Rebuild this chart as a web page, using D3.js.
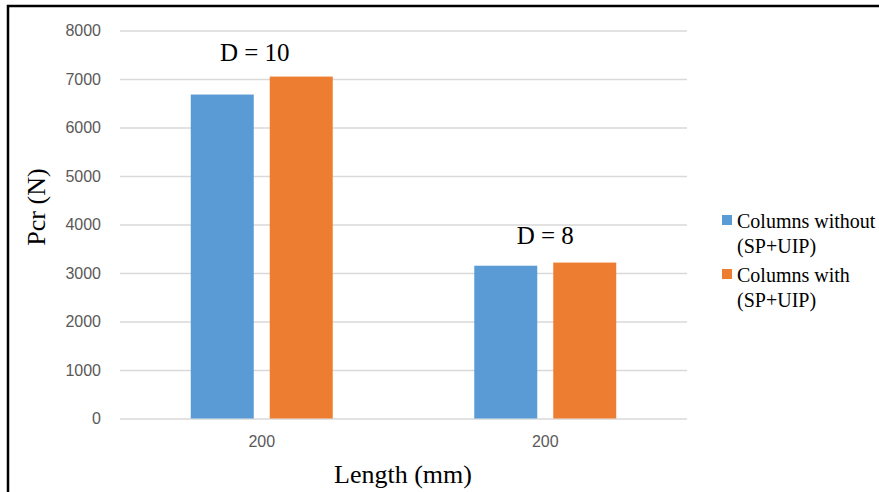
<!DOCTYPE html>
<html>
<head>
<meta charset="utf-8">
<script src="https://cdn.jsdelivr.net/npm/d3@7"></script>
<style>
  html, body { margin: 0; padding: 0; background: #fff; }
  svg { display: block; }
</style>
</head>
<body>
<svg id="chart" width="879" height="492"></svg>
<script>
// ---- data ----
const categories = ["200", "200"];
const groupLabels = ["D = 10", "D = 8"];
const seriesNames = ["Columns without (SP+UIP)", "Columns with (SP+UIP)"];
const legendLines = [["Columns without", "(SP+UIP)"], ["Columns with", "(SP+UIP)"]];
const withoutValues = [6680, 3150];
const withValues = [7050, 3215];
const yTicks = [0, 1000, 2000, 3000, 4000, 5000, 6000, 7000, 8000];
const colors = ["#5B9BD5", "#ED7D31"];

const series = [withoutValues, withValues];

const svg = d3.select("#chart");

// frame
svg.append("rect")
  .attr("x", 8).attr("y", 6)
  .attr("width", 900).attr("height", 520)
  .attr("fill", "none").attr("stroke", "#000").attr("stroke-width", 2.5);

const plot = { left: 120, right: 687, top: 30.5, bottom: 418.5 };

const x = d3.scaleBand()
  .domain(categories.map((d, i) => i))
  .range([plot.left, plot.right])
  .padding(0);

const xSub = d3.scaleBand()
  .domain(series.map((d, i) => i))
  .range([0, x.bandwidth()])
  .paddingInner(0.2025)
  .paddingOuter(0.896);

const y = d3.scaleLinear()
  .domain([0, 8000])
  .range([plot.bottom, plot.top]);

// gridlines + y labels
const yAxis = svg.append("g")
  .attr("transform", `translate(${plot.left},0)`)
  .call(d3.axisLeft(y).tickValues(yTicks).tickFormat(d3.format("d"))
    .tickSize(-(plot.right - plot.left)).tickPadding(19));
yAxis.select(".domain").remove();
yAxis.selectAll(".tick line").attr("stroke", "#d9d9d9").attr("stroke-width", 1.4);
yAxis.selectAll(".tick text")
  .attr("fill", "#595959")
  .style("font-family", "'Liberation Sans', Arial, sans-serif")
  .style("font-size", "16px");

// bars
series.forEach((vals, si) => {
  svg.append("g").selectAll("rect")
    .data(vals)
    .join("rect")
    .attr("x", (d, i) => x(i) + xSub(si))
    .attr("width", xSub.bandwidth())
    .attr("y", d => y(d))
    .attr("height", d => y(0) - y(d))
    .attr("fill", colors[si]);
});

// x axis labels
const xAxis = svg.append("g")
  .attr("transform", `translate(0,${plot.bottom})`)
  .call(d3.axisBottom(x).tickSize(0).tickPadding(17).tickFormat(i => categories[i]));
xAxis.select(".domain").remove();
xAxis.selectAll(".tick text")
  .attr("fill", "#595959")
  .style("font-family", "'Liberation Sans', Arial, sans-serif")
  .style("font-size", "16px");

// group annotations
svg.append("g").selectAll("text")
  .data(groupLabels)
  .join("text")
  .attr("x", (d, i) => x(i) + x.bandwidth() / 2 - (i === 0 ? 7 : 0))
  .attr("y", (d, i) => y(Math.max(withoutValues[i], withValues[i])) - (i === 0 ? 16 : 19))
  .attr("text-anchor", "middle")
  .style("font-family", "'Liberation Serif', 'Times New Roman', serif")
  .style("font-size", "25px")
  .attr("fill", "#000")
  .text(d => d);

// axis titles
svg.append("text")
  .attr("x", 403).attr("y", 483)
  .attr("text-anchor", "middle")
  .style("font-family", "'Liberation Serif', 'Times New Roman', serif")
  .style("font-size", "26px")
  .text("Length (mm)");

svg.append("text")
  .attr("transform", "translate(45,207) rotate(-90)")
  .attr("text-anchor", "middle")
  .style("font-family", "'Liberation Serif', 'Times New Roman', serif")
  .style("font-size", "26px")
  .text("Pcr (N)");

// legend
const legend = svg.append("g");
legendLines.forEach((lines, i) => {
  const top = 215 + i * 54;
  legend.append("rect")
    .attr("x", 722).attr("y", top)
    .attr("width", 10).attr("height", 10)
    .attr("fill", colors[i]);
  lines.forEach((ln, j) => {
    legend.append("text")
      .attr("x", 737).attr("y", top + 13 + j * 25)
      .style("font-family", "'Liberation Serif', 'Times New Roman', serif")
      .style("font-size", "20px")
      .attr("fill", "#000")
      .text(ln);
  });
});
</script>
</body>
</html>
